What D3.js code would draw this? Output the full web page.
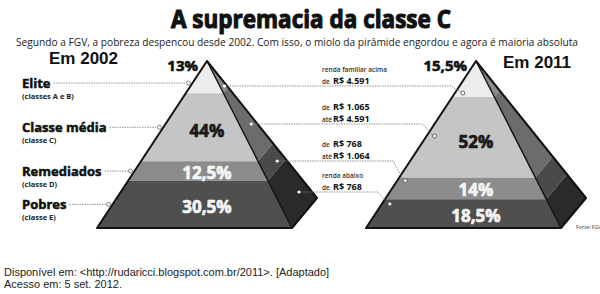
<!DOCTYPE html>
<html>
<head>
<meta charset="utf-8">
<script src="https://cdn.jsdelivr.net/npm/d3@7"></script>
<style>
  body { margin: 0; background: #fff; }
  svg { display: block; }
</style>
</head>
<body>
<svg id="chart"></svg>
<script>
/* dados */
const years = ['2002', '2011'];
const classes = ['Elite', 'Classe média', 'Remediados', 'Pobres'];
const subLabels = ['(classes A e B)', '(classe C)', '(classe D)', '(classe E)'];
const share2002 = [13, 44, 12.5, 30.5];
const share2011 = [15.5, 52, 14, 18.5];

// faixas de renda (duas linhas por faixa)
const incomePrefix1 = ['renda familiar acima', 'de', 'de', 'renda abaixo'];
const incomeValue1  = ['', 'R$ 1.065', 'R$ 768', ''];
const incomePrefix2 = ['de', 'até', 'até', 'de'];
const incomeValue2  = ['R$ 4.591', 'R$ 4.591', 'R$ 1.064', 'R$ 768'];

/* layout */
const W = 600, H = 294;
const apexY = 61, baseY = 228, pyrH = baseY - apexY;
const dxLeft = -110, dxRight = 85;          // cantos da base (face frontal)
const backDx = 110, backDy = 137;           // canto de trás (face lateral)
const rowY = [86, 124, 161, 192];           // linhas da legenda central

const frontFill = ['#ececec', '#c5c5c5', '#8c8c8c', '#4f4f4f'];
const sideFill  = ['#8a8a8a', '#6c6c6c', '#4a4a4a', '#2a2a2a'];
const heavy = '"Open Sans", sans-serif';

const svg = d3.select('#chart').attr('width', W).attr('height', H);

// texto "black": negrito + contorno da mesma cor
const fat = (sel, color, w) => sel.attr('fill', color).attr('stroke', color)
  .attr('stroke-width', w).attr('stroke-linejoin', 'round');

const apexX = d3.scaleOrdinal().domain(years).range([207, 476]);
const y = d3.scaleLinear().domain([0, 100]).range([baseY, baseY - 155]);
const br = d3.formatLocale({ decimal: ',', thousands: '.', grouping: [3], currency: ['R$', ''] });
const pct = v => br.format('.1~f')(v) + '%';

// título
svg.append('text')
  .attr('x', 171).attr('y', 28)
  .attr('textLength', 280).attr('lengthAdjust', 'spacingAndGlyphs')
  .style('font', `700 25px ${heavy}`)
  .call(fat, '#111', 1.1)
  .text('A supremacia da classe C');

svg.append('text')
  .attr('x', 16).attr('y', 46)
  .attr('textLength', 562).attr('lengthAdjust', 'spacingAndGlyphs')
  .style('font', '400 10px "Open Sans", sans-serif').attr('fill', '#222')
  .text('Segundo a FGV, a pobreza despencou desde 2002. Com isso, o miolo da pirâmide engordou e agora é maioria absoluta');

function bands(shares) {
  let low = d3.sum(shares);
  return shares.map((v, i) => {
    const high = low; low = high - v;
    const top = i === 0 ? apexY : y(high);
    const bottom = y(low);
    return { i, v, top, bottom, mid: y((low + high) / 2) };
  });
}

function drawPyramid(year, shares) {
  const ax = apexX(year);
  const g = svg.append('g');
  const b = bands(shares);
  const t = yy => (yy - apexY) / pyrH;
  const front = (tt, dx) => [ax + tt * dx, apexY + tt * pyrH];
  const back = tt => [ax + tt * backDx, apexY + tt * backDy];

  // face lateral
  g.selectAll('.side').data(b).join('path')
    .attr('d', d => {
      const t1 = t(d.top), t2 = t(d.bottom);
      return 'M' + [front(t1, dxRight), front(t2, dxRight), back(t2), back(t1)].join('L') + 'Z';
    })
    .attr('fill', d => sideFill[d.i]);

  // face frontal
  g.selectAll('.front').data(b).join('path')
    .attr('d', d => {
      const t1 = t(d.top), t2 = t(d.bottom);
      return 'M' + [front(t1, dxLeft), front(t1, dxRight), front(t2, dxRight), front(t2, dxLeft)].join('L') + 'Z';
    })
    .attr('fill', d => frontFill[d.i]);

  // contornos
  g.append('path')
    .attr('d', 'M' + [[ax, apexY], front(1, dxLeft), front(1, dxRight), back(1)].join('L') + 'Z')
    .attr('fill', 'none').attr('stroke', '#111').attr('stroke-width', 2).attr('stroke-linejoin', 'round');
  g.append('path')
    .attr('d', 'M' + [[ax, apexY], front(1, dxRight)].join('L'))
    .attr('stroke', '#111').attr('stroke-width', 1.4);

  // percentuais
  g.selectAll('.pct').data(b.slice(1)).join('text')
    .attr('x', ax).attr('y', d => (d.top + d.bottom) / 2 + 0.05 * (d.bottom - d.top) + 6.5)
    .attr('text-anchor', 'middle')
    .style('font', `700 17px ${heavy}`)
    .each(function(d) { fat(d3.select(this), d.i === 1 ? '#1a1a1a' : '#f4f4f4', 0.7); })
    .text(d => pct(d.v));

  g.append('text')
    .attr('x', ax - 9).attr('y', 71).attr('text-anchor', 'end')
    .style('font', `700 15px ${heavy}`)
    .call(fat, '#111', 0.6)
    .text(pct(b[0].v));

  return { ax, b, front, t };
}

const p02 = drawPyramid('2002', share2002);
const p11 = drawPyramid('2011', share2011);

// anos
svg.append('text').attr('x', p02.ax - 89).attr('y', 64).attr('text-anchor', 'end')
  .style('font', `700 17px "Liberation Sans", Arial, sans-serif`).attr('fill', '#111')
  .text('Em ' + years[0]);
svg.append('text').attr('x', p11.ax + 27).attr('y', 68)
  .style('font', `700 17px "Liberation Sans", Arial, sans-serif`).attr('fill', '#111')
  .text('Em ' + years[1]);

// rótulos da esquerda
const leftG = svg.append('g');
p02.b.forEach(d => {
  const cy = d.mid;
  const edgeX = p02.ax + p02.t(cy) * dxLeft - 4;
  const lbl = leftG.append('text').attr('x', 22).attr('y', cy + 5)
    .style('font', `700 13px ${heavy}`)
    .call(fat, '#111', 0.5)
    .text(classes[d.i]);
  leftG.append('text').attr('x', 22).attr('y', cy + 15.5)
    .style('font', `700 7.5px ${heavy}`).attr('fill', '#222')
    .text(subLabels[d.i]);
  const endX = 22 + lbl.node().getComputedTextLength() + 3;
  leftG.append('line')
    .attr('x1', endX).attr('x2', edgeX - 2).attr('y1', cy).attr('y2', cy)
    .attr('stroke', '#777').attr('stroke-width', 0.8).attr('stroke-dasharray', '1.5,1');
  leftG.append('circle').attr('cx', edgeX).attr('cy', cy).attr('r', 2)
    .attr('fill', '#fff').attr('stroke', '#666').attr('stroke-width', 0.8);
});

// legenda central e ligações
const midG = svg.append('g');
const s = 0.7;
rowY.forEach((ry, i) => {
  // ponto na face lateral da pirâmide de 2002
  const tt = (ry - apexY) / (pyrH * (1 - s) + backDy * s);
  const dotX = p02.ax + tt * (dxRight * (1 - s) + backDx * s);

  // círculo na pirâmide de 2011
  const band = p11.b[i];
  const cy = Math.max(band.top + 3, Math.min(band.bottom - 4, ry + 12));
  const cx = p11.ax + p11.t(cy) * dxLeft + 8;

  midG.append('path')
    .attr('d', `M${dotX},${ry}L${cx - 12},${ry}L${cx - 2},${cy - 1}`)
    .attr('fill', 'none').attr('stroke', '#777').attr('stroke-width', 0.8)
    .attr('stroke-dasharray', '1.5,1');
  midG.append('circle').attr('cx', dotX).attr('cy', ry).attr('r', 1.6).attr('fill', '#fff');
  midG.append('circle').attr('cx', cx).attr('cy', cy).attr('r', 2)
    .attr('fill', '#fff').attr('stroke', '#444').attr('stroke-width', 0.8);

  const l1 = midG.append('text').attr('x', 322).attr('y', ry - 14);
  l1.append('tspan').style('font', '600 6.5px "Open Sans", sans-serif').attr('fill', '#333').text(incomePrefix1[i]);
  if (incomeValue1[i]) {
    l1.append('tspan').attr('x', 333).style('font', `700 9px ${heavy}`).attr('fill', '#111').text(incomeValue1[i]);
  }
  const l2 = midG.append('text').attr('x', 322).attr('y', ry - 2.5);
  l2.append('tspan').style('font', '600 6.5px "Open Sans", sans-serif').attr('fill', '#333').text(incomePrefix2[i]);
  l2.append('tspan').attr('x', 333).style('font', `700 9px ${heavy}`).attr('fill', '#111').text(incomeValue2[i]);
});

// fonte
svg.append('text').attr('x', 576).attr('y', 229)
  .style('font', '400 5px "Open Sans", sans-serif').attr('fill', '#333')
  .text('Fonte: FGV');

// rodapé
svg.append('text').attr('x', 4).attr('y', 276)
  .style('font', '400 11px "Liberation Sans", Arial, sans-serif').attr('fill', '#222')
  .text('Disponível em: <http://rudaricci.blogspot.com.br/2011>. [Adaptado]');
svg.append('text').attr('x', 4).attr('y', 287.5)
  .style('font', '400 11px "Liberation Sans", Arial, sans-serif').attr('fill', '#222')
  .text('Acesso em: 5 set. 2012.');
</script>
</body>
</html>
